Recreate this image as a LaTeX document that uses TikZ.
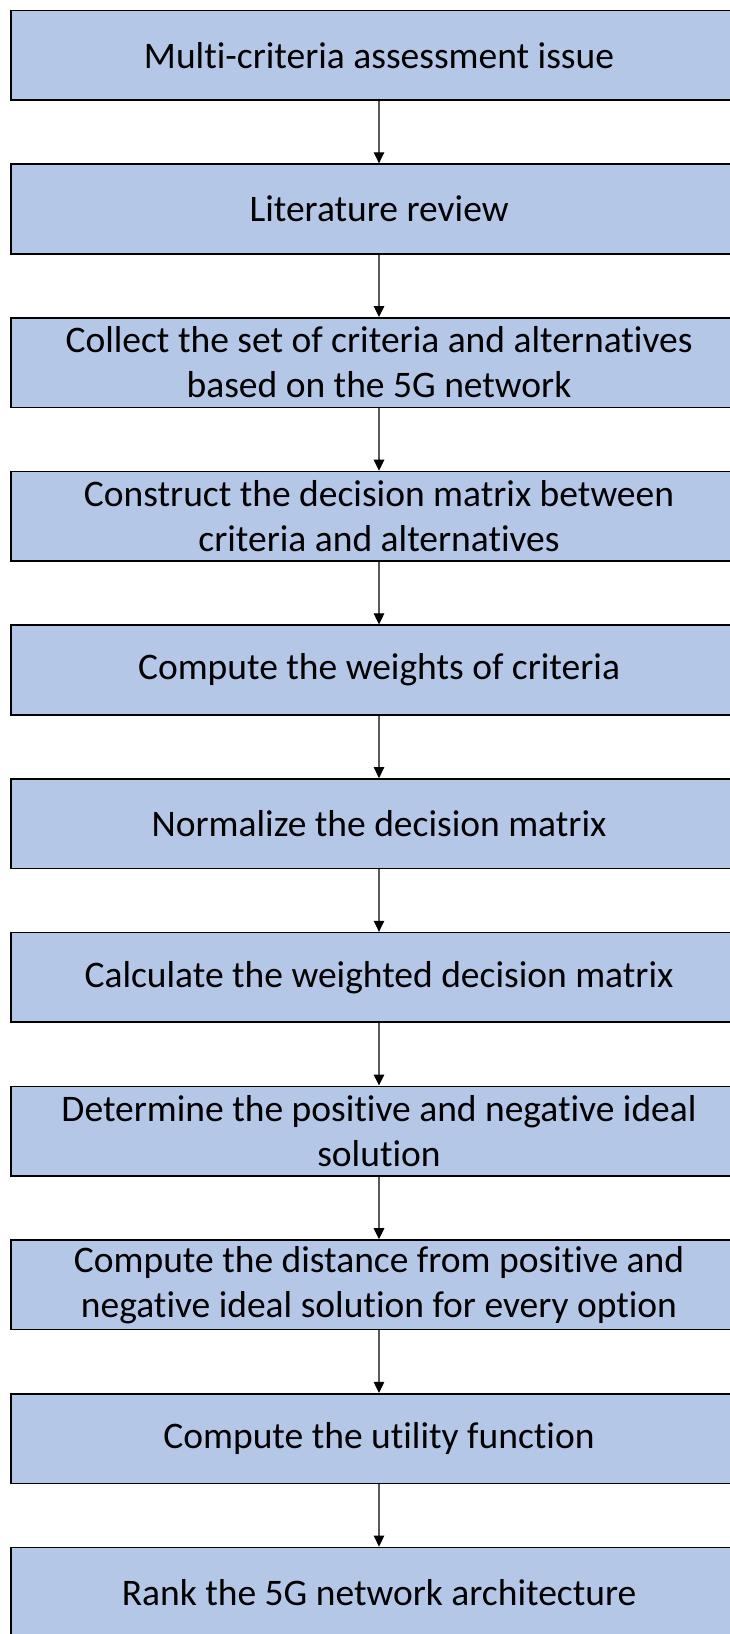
\documentclass[tikz,border=0pt]{standalone}
\usepackage{fontspec}
\setmainfont{Carlito}[Ligatures=NoCommon]
\XeTeXinterchartokenstate=1
\newXeTeXintercharclass\myTclass
\newXeTeXintercharclass\myIclass
\XeTeXcharclass`t=\myTclass
\XeTeXcharclass`i=\myIclass
\XeTeXinterchartoks\myTclass\myIclass={\kern0pt }
\usetikzlibrary{arrows.meta}
\definecolor{boxblue}{HTML}{B4C7E7}
\tikzset{
  stepbox/.style={draw=black, line width=1.6pt, fill=boxblue, minimum width=736pt, minimum height=89.6pt, inner sep=0pt, align=center, font=\fontsize{37.5}{45}\selectfont, text=black},
  link/.style={draw=black!65, line width=1.1pt, -{Triangle[length=11pt,width=10.5pt,color=black]}}
}
\begin{document}
\begin{tikzpicture}[x=1pt,y=-1pt]
\useasboundingbox (0,0) rectangle (729,1634);
\fill[white] (0,0) rectangle (729,1634);
\node[stepbox] (b1) at (379,55.2) {Multi-criteria assessment issue};
\node[stepbox] (b2) at (379,208.9) {Literature review};
\node[stepbox] (b3) at (379,362.6) {Collect the set of criteria and alternatives\\based on the 5G network};
\node[stepbox] (b4) at (379,516.3) {Construct the decision matrix between\\criteria and alternatives};
\node[stepbox] (b5) at (379,670.0) {Compute the weights of criteria};
\node[stepbox] (b6) at (379,823.7) {Normalize the decision matrix};
\node[stepbox] (b7) at (379,977.4) {Calculate the weighted decision matrix};
\node[stepbox] (b8) at (379,1131.1) {Determine the positive and negative ideal\\solution};
\node[stepbox] (b9) at (379,1284.8) {Compute the distance from positive and\\negative ideal solution for every option};
\node[stepbox] (b10) at (379,1438.5) {Compute the utility function};
\node[stepbox] (b11) at (379,1592.2) {Rank the 5G network architecture};
\foreach \a/\b in {b1/b2,b2/b3,b3/b4,b4/b5,b5/b6,b6/b7,b7/b8,b8/b9,b9/b10,b10/b11}
  \draw[link] (\a.south) -- (\b.north);
\end{tikzpicture}
\end{document}
